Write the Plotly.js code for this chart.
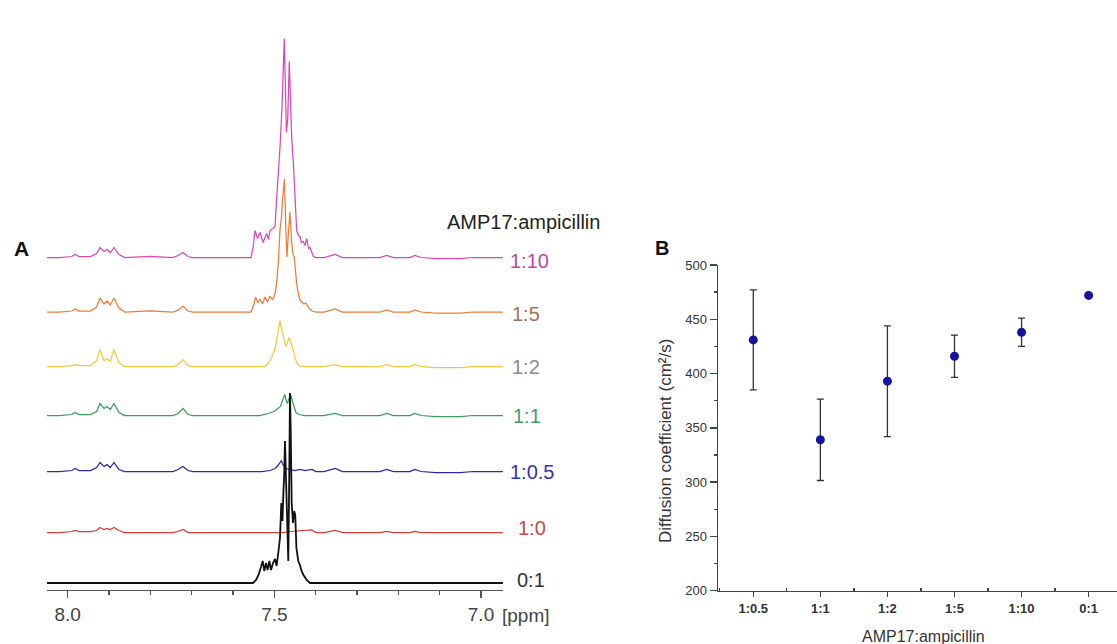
<!DOCTYPE html>
<html>
<head>
<meta charset="utf-8">
<script src="https://cdn.plot.ly/plotly-3.0.1.min.js"></script>
<style>html,body{margin:0;padding:0;background:#fff;}#chart{width:1117px;height:644px;}</style>
</head>
<body>
<div id="chart"></div>
<script>
// ---------- Panel A: stacked 1H NMR spectra (ppm, intensity above own baseline) ----------
const spectrumLabels = ["1:10", "1:5", "1:2", "1:1", "1:0.5", "1:0", "0:1"];

const leftPpm  = [8.050, 8.020, 7.990, 7.982, 7.972, 7.945, 7.930, 7.922, 7.912, 7.905, 7.897, 7.888, 7.876, 7.862, 7.800, 7.745, 7.733, 7.721, 7.709, 7.697, 7.620, 7.570];
const rightPpm = [7.380, 7.353, 7.335, 7.245, 7.228, 7.212, 7.172, 7.160, 7.145, 7.110, 7.050, 7.020, 6.947];

// 1:10
const left_1_10  = [0,0,1,3,1,1,4,10,6,8,5,10,3,0,1,0,2,5,1,0,0,0];
const ppm_1_10   = [7.5564,7.5516,7.5467,7.5407,7.5347,7.5274,7.5185,7.5142,7.5105,7.5033,7.4984,7.4943,7.4900,7.4864,7.4815,7.4784,7.4760,7.4736,7.4707,7.4675,7.4639,7.4610,7.4581,7.4543,7.4501,7.4460,7.4417,7.4380,7.4344,7.4301,7.4258,7.4218,7.4174,7.4137,7.4058,7.3990];
const int_1_10   = [0,10,27,19,25,15,24,18,27,29,31,60,85,110,150,190,219,175,125,140,196,160,120,97,65,27,22,21,15,16,12,19,9,10,1,0];
const right_1_10 = [0,3,0,0,2,0,0,2,0,-1,-1,0,0];

// 1:5
const left_1_5  = [0,0,1,3,1,1,5,14,8,11,7,14,4,0,1,0,2,6,1,0,0,0];
const ppm_1_5   = [7.5564,7.5492,7.5455,7.5395,7.5347,7.5287,7.5226,7.5166,7.5105,7.5045,7.4984,7.4943,7.4905,7.4864,7.4828,7.4796,7.4755,7.4724,7.4695,7.4659,7.4622,7.4586,7.4550,7.4519,7.4490,7.4460,7.4417,7.4380,7.4332,7.4283,7.4235,7.4163,7.4090,7.3990];
const int_1_5   = [0,8,15,9,13,8,15,10,16,12,18,30,48,82,95,115,133,85,55,80,100,72,58,55,40,28,18,12,10,8,9,4,1,0];
const right_1_5 = [0,3,0,0,2,0,0,2,0,-1,-1,0,0];

// 1:2
const left_1_2  = [0,0,1,2,1,1,6,17,6,8,5,17,4,0,0,0,2,7,1,0,0,0];
const ppm_1_2   = [7.5226,7.5154,7.5081,7.5009,7.4948,7.4900,7.4864,7.4828,7.4791,7.4755,7.4719,7.4683,7.4646,7.4615,7.4586,7.4550,7.4501,7.4460,7.4405,7.4260];
const int_1_2   = [0,3,8,15,25,38,46,38,30,26,20,25,29,27,22,18,10,4,1,0];
const right_1_2 = [0,2,0,0,2,0,0,2,0,-1,-1,0,0];

// 1:1
const left_1_1  = [0,0,1,3,1,1,4,12,7,9,6,12,3,0,0,0,2,7,1,0,0,0];
const ppm_1_1   = [7.5347,7.5154,7.5009,7.4913,7.4852,7.4804,7.4748,7.4719,7.4683,7.4646,7.4598,7.4562,7.4525,7.4477,7.4405,7.4260];
const int_1_1   = [0,2,4,7,9,15,21,16,12,17,20,14,8,3,1,0];
const right_1_1 = [0,2,0,0,2,0,0,2,0,-1,-1,0,0];

// 1:0.5
const left_1_05  = [0,0,1,3,1,1,4,9,5,7,4,9,2,0,0,0,2,5,1,0,0,0];
const ppm_1_05   = [7.5300,7.5105,7.4984,7.4913,7.4864,7.4832,7.4804,7.4767,7.4719,7.4622,7.4500,7.4380,7.4260,7.4090,7.3990];
const int_1_05   = [0,1,3,6,9,11,8,5,3,2,1,2,1,2,0];
const right_1_05 = [0,3,0,0,2,0,0,2,0,-1,-1,0,0];

// 1:0
const left_1_0  = [0,0,1,2,1,1,2,5,3,4,3,5,2,0,0,0,1,3,0,0,0,0];
const ppm_1_0   = [7.5300,7.4800,7.4622,7.4380,7.4096,7.3990];
const int_1_0   = [0,0,1,2,2.5,0];
const right_1_0 = [0,2,0,0,1,0,0,1,0,0,0,0,0];

// 0:1 (ampicillin only)
const ppm_0_1 = [8.050,7.5516,7.5443,7.5383,7.5323,7.5282,7.5243,7.5202,7.5163,7.5122,7.5081,7.5033,7.4984,7.4945,7.4905,7.4864,7.4832,7.4804,7.4782,7.4762,7.4743,7.4719,7.4695,7.4663,7.4639,7.4622,7.4603,7.4581,7.4550,7.4519,7.4495,7.4466,7.4422,7.4380,7.4342,7.4296,7.4218,7.4137,6.947];
const int_0_1 = [0,0,3,8,16,22,12,20,13,22,13,20,24,17,30,45,80,62,90,108,142,110,60,22,110,190,150,80,60,72,68,35,22,18,12,8,3,0,0];

// ---------- Panel B: diffusion coefficients ----------
const ratios     = ["1:0.5", "1:1", "1:2", "1:5", "1:10", "0:1"];
const diffusion  = [431, 339, 393, 416, 438, 472];
const diffError  = [46, 37.5, 51, 19.5, 13, 0];

// ---------- styles / stacking ----------
const W = 1117, H = 644;
const px = v => v / W, py = v => 1 - v / H;
const FONT = "Arial, 'Liberation Sans', Helvetica, sans-serif";

const stack = [
  {x: leftPpm.concat(ppm_1_10, rightPpm), h: left_1_10.concat(int_1_10, right_1_10), off: 332,  color: "#dd46b6", lab: "#c8449e", w: 1.25, ly: 261, lx: 508},
  {x: leftPpm.concat(ppm_1_5,  rightPpm), h: left_1_5.concat(int_1_5, right_1_5),    off: 277.5,color: "#ee7c34", lab: "#a8705f", w: 1.25, ly: 314, lx: 510},
  {x: leftPpm.concat(ppm_1_2,  rightPpm), h: left_1_2.concat(int_1_2, right_1_2),    off: 222.8,color: "#f2c93c", lab: "#8a8a9c", w: 1.25, ly: 367, lx: 510},
  {x: leftPpm.concat(ppm_1_1,  rightPpm), h: left_1_1.concat(int_1_1, right_1_1),    off: 174,  color: "#3c9c5e", lab: "#43a06a", w: 1.25, ly: 416, lx: 511},
  {x: leftPpm.concat(ppm_1_05, rightPpm), h: left_1_05.concat(int_1_05, right_1_05), off: 118,  color: "#2a2aaa", lab: "#3434b2", w: 1.25, ly: 472, lx: 508},
  {x: leftPpm.concat(ppm_1_0,  rightPpm), h: left_1_0.concat(int_1_0, right_1_0),    off: 57,   color: "#d83c3c", lab: "#c84646", w: 1.25, ly: 528, lx: 516},
  {x: ppm_0_1, h: int_0_1, off: 6.5, color: "#111111", lab: "#333333", w: 1.8, ly: 580, lx: 515}
];

const traces = stack.map((s, i) => ({
  type: "scatter", mode: "lines", x: s.x, y: s.h.map(v => v + s.off),
  xaxis: "x", yaxis: "y", line: {color: s.color, width: s.w}, hoverinfo: "skip", showlegend: false,
  name: spectrumLabels[i]
}));

traces.push({
  type: "scatter", mode: "markers",
  x: ratios.map((r, i) => i), y: diffusion,
  xaxis: "x2", yaxis: "y2",
  marker: {color: "#1414a0", size: 9},
  error_y: {type: "data", array: diffError, visible: true, color: "#333", thickness: 1.3, width: 3.5},
  showlegend: false, hoverinfo: "skip"
});

const annotations = stack.map((s, i) => ({
  xref: "paper", yref: "paper", x: px(s.lx), y: py(s.ly), xanchor: "left", yanchor: "middle",
  text: spectrumLabels[i], showarrow: false, font: {family: FONT, size: 20, color: s.lab}
}));
annotations.push(
  {xref: "paper", yref: "paper", x: px(445), y: py(222), xanchor: "left", yanchor: "middle", text: "AMP17:ampicillin", showarrow: false, font: {family: FONT, size: 20, color: "#222"}},
  {xref: "paper", yref: "paper", x: px(21), y: py(248), xanchor: "center", yanchor: "middle", text: "<b>A</b>", showarrow: false, font: {family: FONT, size: 21, color: "#111"}},
  {xref: "paper", yref: "paper", x: px(662), y: py(248), xanchor: "center", yanchor: "middle", text: "<b>B</b>", showarrow: false, font: {family: FONT, size: 20, color: "#111"}},
  {xref: "paper", yref: "paper", x: px(500), y: py(615), xanchor: "left", yanchor: "middle", text: "[ppm]", showarrow: false, font: {family: FONT, size: 19, color: "#444"}},
  {xref: "paper", yref: "paper", x: px(665), y: py(441), xanchor: "center", yanchor: "middle", textangle: -90, text: "Diffusion coefficient (cm²/s)", showarrow: false, font: {family: FONT, size: 17, color: "#333"}},
  {xref: "paper", yref: "paper", x: px(923), y: py(636), xanchor: "center", yanchor: "middle", text: "AMP17:ampicillin", showarrow: false, font: {family: FONT, size: 16, color: "#333"}}
);

const layout = {
  width: W, height: H, margin: {l: 0, r: 0, t: 0, b: 0},
  paper_bgcolor: "#fff", plot_bgcolor: "rgba(0,0,0,0)",
  font: {family: FONT},
  showlegend: false,
  xaxis: {
    domain: [px(47), px(503)], range: [8.0501, 6.9468], anchor: "y",
    showline: true, linecolor: "#555", linewidth: 1.5, mirror: false,
    ticks: "outside", ticklen: 7, tickwidth: 1.5, tickcolor: "#555",
    tickmode: "linear", tick0: 7, dtick: 0.5, tickformat: ".1f",
    tickfont: {family: FONT, size: 19, color: "#444"},
    minor: {tickmode: "linear", tick0: 7, dtick: 0.1, ticks: "outside", ticklen: 4, tickwidth: 1.2, tickcolor: "#555", showgrid: false},
    showgrid: false, zeroline: false, fixedrange: true
  },
  yaxis: {domain: [py(589.5), py(30)], range: [0, 559.5], anchor: "x", visible: false, fixedrange: true},
  xaxis2: {
    domain: [px(718), 1], range: [-0.526, 5.423], anchor: "y2",
    tickmode: "array", tickvals: ratios.map((r, i) => i), ticktext: ratios,
    ticks: "outside", ticklen: 5, tickwidth: 1.3, tickcolor: "#444",
    showline: true, linecolor: "#444", linewidth: 1.5,
    tickfont: {family: FONT, size: 13, color: "#333", weight: "bold"},
    minor: {tickmode: "linear", tick0: 0.5, dtick: 1, ticks: "inside", ticklen: 3, tickcolor: "#444", showgrid: false},
    showgrid: false, zeroline: false, fixedrange: true
  },
  yaxis2: {
    domain: [py(590.7), py(265)], range: [200, 500], anchor: "x2",
    tickmode: "linear", tick0: 200, dtick: 50,
    ticks: "outside", ticklen: 7, tickwidth: 1.3, tickcolor: "#444",
    showline: true, linecolor: "#444", linewidth: 1.5,
    tickfont: {family: FONT, size: 13, color: "#333"},
    minor: {tickmode: "linear", dtick: 25, ticks: "outside", ticklen: 3, tickcolor: "#444", showgrid: false},
    showgrid: false, zeroline: false, fixedrange: true
  },
  annotations: annotations
};

Plotly.newPlot("chart", traces, layout, {staticPlot: true, displayModeBar: false});
</script>
</body>
</html>
